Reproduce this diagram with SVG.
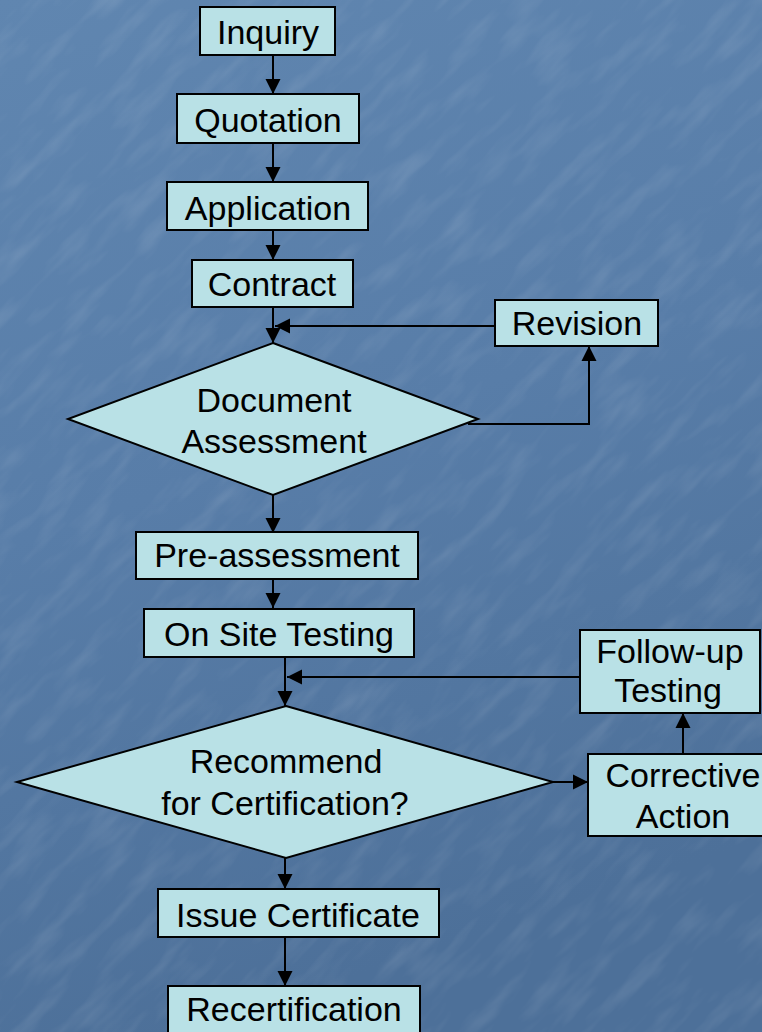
<svg xmlns="http://www.w3.org/2000/svg" width="762" height="1032" viewBox="0 0 762 1032">
<style>
.n{fill:#b9e1e6;stroke:#000;stroke-width:2}
.t{font-family:"Liberation Sans",Arial,sans-serif;font-size:34px;fill:#000;text-anchor:middle}
.c{fill:none;stroke:#000;stroke-width:2}
</style>
<defs>
<linearGradient id="bg" x1="0" y1="0" x2="0.25" y2="1">
<stop offset="0" stop-color="#6086b0"/>
<stop offset="0.5" stop-color="#587da8"/>
<stop offset="1" stop-color="#4d7099"/>
</linearGradient>
<filter id="tex" filterUnits="userSpaceOnUse" x="-500" y="-500" width="1800" height="2100">
<feTurbulence type="fractalNoise" baseFrequency="0.015 0.06" numOctaves="3" seed="7" result="n"/>
<feColorMatrix in="n" type="matrix" values="0 0 0 0 1  0 0 0 0 1  0 0 0 0 1  0 0 0 1.3 -0.6"/>
</filter>
<clipPath id="cl"><rect x="0" y="0" width="762" height="1032"/></clipPath>
<marker id="ah" markerUnits="userSpaceOnUse" markerWidth="15" markerHeight="16" viewBox="0 0 15 16" refX="15" refY="8" orient="auto">
<path d="M0,0.5 L15,8 L0,15.5 Z" fill="#000"/>
</marker>
</defs>
<rect x="0" y="0" width="762" height="1032" fill="url(#bg)"/>
<g clip-path="url(#cl)" opacity="0.16">
<g transform="rotate(-45 381 516)">
<rect x="-500" y="-500" width="1800" height="2100" filter="url(#tex)"/>
</g>
</g>
<g id="connectors">
<path class="c" d="M273,55 V94" marker-end="url(#ah)"/>
<path class="c" d="M273,143 V182" marker-end="url(#ah)"/>
<path class="c" d="M273,230 V260" marker-end="url(#ah)"/>
<path class="c" d="M273,307 V343" marker-end="url(#ah)"/>
<path class="c" d="M495,326 H275" marker-end="url(#ah)"/>
<path class="c" d="M468,424 H589 V346" marker-end="url(#ah)"/>
<path class="c" d="M273,495 V533" marker-end="url(#ah)"/>
<path class="c" d="M273,579 V608" marker-end="url(#ah)"/>
<path class="c" d="M285,657 V706" marker-end="url(#ah)"/>
<path class="c" d="M580,677 H287" marker-end="url(#ah)"/>
<path class="c" d="M553,782 H588" marker-end="url(#ah)"/>
<path class="c" d="M683,754 V713" marker-end="url(#ah)"/>
<path class="c" d="M285,858 V889" marker-end="url(#ah)"/>
<path class="c" d="M285,937 V986" marker-end="url(#ah)"/>
</g>
<g id="inquiry"><rect class="n" x="200" y="7" width="135" height="48"/><text class="t" x="268" y="44">Inquiry</text></g>
<g id="quotation"><rect class="n" x="177" y="94" width="182" height="49"/><text class="t" x="268" y="132">Quotation</text></g>
<g id="application"><rect class="n" x="167" y="182" width="201" height="48"/><text class="t" x="268" y="220">Application</text></g>
<g id="contract"><rect class="n" x="192" y="260" width="161" height="47"/><text class="t" x="272" y="296">Contract</text></g>
<g id="revision"><rect class="n" x="495" y="300" width="163" height="46"/><text class="t" x="577" y="335">Revision</text></g>
<g id="document-assessment"><polygon class="n" points="273,343 478,419 273,495 68,419"/><text class="t" x="274" y="412">Document</text><text class="t" x="274" y="453">Assessment</text></g>
<g id="pre-assessment"><rect class="n" x="136" y="532" width="282" height="47"/><text class="t" x="277" y="567">Pre-assessment</text></g>
<g id="on-site-testing"><rect class="n" x="144" y="609" width="270" height="48"/><text class="t" x="279" y="646">On Site Testing</text></g>
<g id="follow-up-testing"><rect class="n" x="580" y="630" width="180" height="83"/><text class="t" x="670" y="663">Follow-up</text><text class="t" x="668" y="702">Testing</text></g>
<g id="recommend"><polygon class="n" points="286,706 553,782 286,858 17,782"/><text class="t" x="286" y="773">Recommend</text><text class="t" x="285" y="815">for Certification?</text></g>
<g id="corrective-action"><rect class="n" x="588" y="754" width="192" height="82"/><text class="t" x="683" y="787">Corrective</text><text class="t" x="683" y="828">Action</text></g>
<g id="issue-certificate"><rect class="n" x="158" y="889" width="281" height="48"/><text class="t" x="298" y="927">Issue Certificate</text></g>
<g id="recertification"><rect class="n" x="168" y="986" width="252" height="60"/><text class="t" x="294" y="1021">Recertification</text></g>
</svg>
